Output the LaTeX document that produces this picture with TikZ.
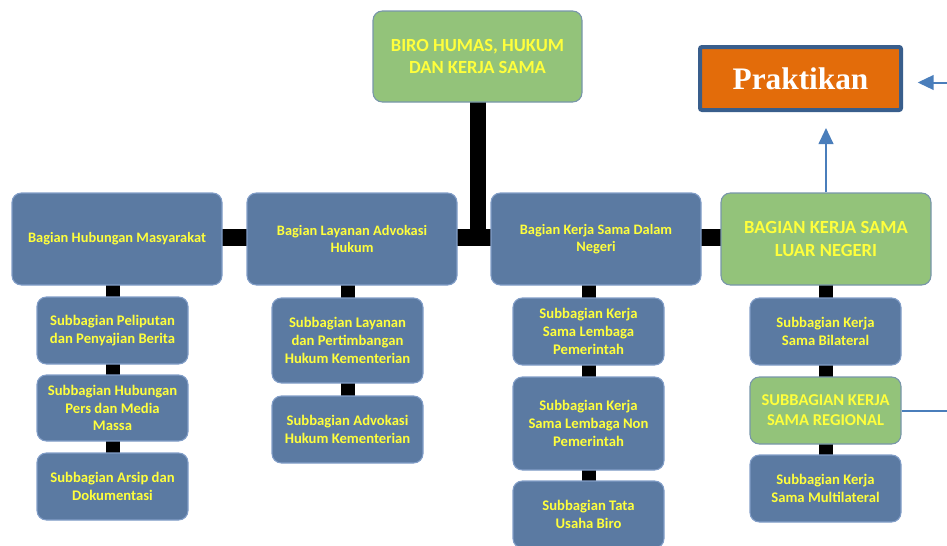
\documentclass[tikz,border=0pt]{standalone}
\usepackage{fontspec}
\setmainfont{Carlito}
\newfontfamily\serifbold{Liberation Serif}
\usetikzlibrary{backgrounds,arrows.meta,calc}
\definecolor{boxblue}{RGB}{91,122,162}
\definecolor{boxblueline}{RGB}{130,158,200}
\definecolor{boxgreen}{RGB}{147,195,122}
\definecolor{boxgreenline}{RGB}{120,150,170}
\definecolor{txtyellow}{RGB}{255,255,60}
\definecolor{prakorange}{RGB}{227,108,10}
\definecolor{prakline}{RGB}{57,94,140}
\definecolor{arrowblue}{RGB}{74,126,187}
\tikzset{
  sz/.style 2 args={minimum width=#1*0.75pt, minimum height=#2*0.75pt},
  bluebox/.style={rounded corners=7pt, draw=boxblueline, line width=0.8pt, fill=boxblue,
    text=txtyellow, align=center, inner sep=0pt, font=\bfseries\fontsize{11}{13.2}\selectfont},
  headbox/.style={bluebox, font=\bfseries\fontsize{10.8}{13}\selectfont},
  greenbox/.style={bluebox, fill=boxgreen, draw=boxgreenline, font=\bfseries\fontsize{13.9}{17}\selectfont},
  bar/.style={line width=#1*0.75pt, draw=black},
  blueline/.style={draw=arrowblue, line width=1.5pt},
  bluearrow/.style={blueline, -{Triangle[length=12pt,width=11pt]}}
}
\begin{document}
\begin{tikzpicture}[x=0.75pt,y=-0.75pt]
\useasboundingbox (0,0) rectangle (947,546);
\clip (0,0) rectangle (947,546);
% top
\node[greenbox, sz={209}{91}] (biro) at (477.5,56.5) {BIRO HUMAS, HUKUM\\DAN KERJA SAMA};
\node[rectangle, rounded corners=1.5pt, draw=prakline, line width=3pt, fill=prakorange, text=white,
  inner sep=0pt, sz={201}{63}, font=\serifbold\bfseries\fontsize{23.5}{26}\selectfont] (prak) at (800.5,78.5) {Praktikan};
% level 2
\node[headbox, sz={210}{92}] (l2a) at (117,239) {Bagian Hubungan Masyarakat};
\node[headbox, sz={210}{92}] (l2b) at (352,239) {Bagian Layanan Advokasi\\Hukum};
\node[headbox, sz={210}{92}] (l2c) at (596,239) {Bagian Kerja Sama Dalam\\Negeri};
\node[greenbox, sz={210}{92}] (l2d) at (826,239) {BAGIAN KERJA SAMA\\LUAR NEGERI};
% column 1
\node[bluebox, sz={151}{67}] (s1a) at (112.5,330.5) {Subbagian Peliputan\\dan Penyajian Berita};
\node[bluebox, sz={151}{66}] (s1b) at (112.5,408) {Subbagian Hubungan\\Pers dan Media\\Massa};
\node[bluebox, sz={151}{67}] (s1c) at (112.5,486.5) {Subbagian Arsip dan\\Dokumentasi};
% column 2
\node[bluebox, sz={151}{85}] (s2a) at (347.5,340.5) {Subbagian Layanan\\dan Pertimbangan\\Hukum Kementerian};
\node[bluebox, sz={151}{67}] (s2b) at (347.5,429.5) {Subbagian Advokasi\\Hukum Kementerian};
% column 3
\node[bluebox, sz={151}{67}] (s3a) at (588.5,331.5) {Subbagian Kerja\\Sama Lembaga\\Pemerintah};
\node[bluebox, sz={151}{93}] (s3b) at (588.5,423.5) {Subbagian Kerja\\Sama Lembaga Non\\Pemerintah};
\node[bluebox, sz={151}{67}] (s3c) at (588.5,514.5) {Subbagian Tata\\Usaha Biro};
% column 4
\node[bluebox, sz={151}{67}] (s4a) at (825.5,331.5) {Subbagian Kerja\\Sama Bilateral};
\node[greenbox, sz={151}{67}, font=\bfseries\fontsize{12.4}{15}\selectfont] (s4b) at (825.5,410.5) {SUBBAGIAN KERJA\\SAMA REGIONAL};
\node[bluebox, sz={151}{67}] (s4c) at (825.5,488.5) {Subbagian Kerja\\Sama Multilateral};
% connectors behind boxes
\begin{scope}[on background layer]
  \draw[bar=17] ($(l2a.center)+(0,-2)$) -- ($(l2d.center)+(0,-2)$);
  \draw[bar=16] (biro.center) -- ($(biro.center |- l2b.center)+(0,-2)$);
  \draw[bar=14] (s1a.center |- l2a.center) -- (s1c.center);
  \draw[bar=14] (s2a.center |- l2b.center) -- (s2b.center);
  \draw[bar=14] (s3a.center |- l2c.center) -- (s3c.center);
  \draw[bar=14] (s4a.center |- l2d.center) -- (s4c.center);
\end{scope}
% blue arrows
\coordinate (turn) at (965,0);
\draw[bluearrow, shorten >=12pt] (l2d.north) -- (l2d.north |- prak.south);
\draw[bluearrow, shorten >=11pt] (s4b.east) -- (s4b.east -| turn) |- ($(prak.east)+(0,4)$);
\end{tikzpicture}
\end{document}
